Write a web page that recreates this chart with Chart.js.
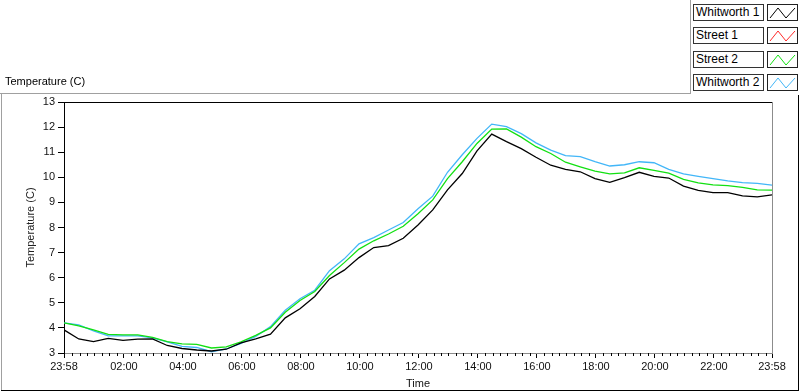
<!DOCTYPE html>
<html>
<head>
<meta charset="utf-8">
<script src="https://cdn.jsdelivr.net/npm/chart.js@4/dist/chart.umd.min.js"></script>
<style>
body { margin: 0; background: #fff; font-family: "Liberation Sans", Arial, sans-serif; }
#wrap { position: relative; width: 800px; height: 392px; overflow: hidden; background: #fff; }
#chart { position: absolute; left: 0; top: 0; }
.ln { position: absolute; }
#plotLabel { position: absolute; left: 5px; top: 75px; font-size: 11px; color: #000; }
.lgName { position: absolute; left: 693px; width: 67px; height: 15px; border: 1px solid #333; font-size: 12px; line-height: 15px; padding-left: 2px; color: #000; background: #fff; }
.lgIcon { position: absolute; left: 767px; width: 29px; height: 15px; border: 1px solid #222; background: #fff; }
</style>
</head>
<body>
<div id="wrap">
  <canvas id="chart" width="800" height="392"></canvas>
  <div class="ln" style="left:0;top:93px;width:691px;height:1px;background:#a0a0a0"></div>
  <div class="ln" style="left:690px;top:0;width:1px;height:94px;background:#a0a0a0"></div>
  <div class="ln" style="left:1px;top:93px;width:1px;height:298px;background:#a0a0a0"></div>
  <div class="ln" style="left:1px;top:390px;width:798px;height:1px;background:#000"></div>
  <div class="ln" style="left:798px;top:95px;width:1px;height:296px;background:#000"></div>
  <div id="plotLabel">Temperature (C)</div>
  <div id="legend"></div>
</div>
<script>
// time axis: hours since 23:58
const hours = [0, 0.5, 1, 1.5, 2, 2.5, 3, 3.5, 4, 4.5, 5, 5.5, 6, 6.5, 7, 7.5, 8, 8.5, 9, 9.5,
  10, 10.5, 11, 11.5, 12, 12.5, 13, 13.5, 14, 14.5, 15, 15.5, 16, 16.5, 17, 17.5, 18, 18.5, 19, 19.5,
  20, 20.5, 21, 21.5, 22, 22.5, 23, 23.5, 24]

const whitworth1 = [3.92, 3.56, 3.45, 3.58, 3.5, 3.55, 3.56, 3.3, 3.18, 3.12, 3.08, 3.15, 3.4, 3.56, 3.75, 4.4, 4.76, 5.25, 5.95, 6.3,
  6.8, 7.2, 7.28, 7.57, 8.1, 8.7, 9.5, 10.15, 11.05, 11.72, 11.42, 11.14, 10.8, 10.48, 10.32, 10.22, 9.95, 9.8, 9.99, 10.2,
  10.04, 9.97, 9.65, 9.48, 9.39, 9.39, 9.26, 9.22, 9.3]
const street1 = []
const street2 = [4.2, 4.08, 3.92, 3.74, 3.72, 3.72, 3.62, 3.45, 3.36, 3.34, 3.2, 3.24, 3.44, 3.7, 4.0, 4.62, 5.09, 5.45, 6.09, 6.6,
  7.14, 7.47, 7.74, 8.05, 8.55, 9.1, 9.95, 10.62, 11.35, 11.92, 11.93, 11.6, 11.22, 10.95, 10.6, 10.42, 10.25, 10.14, 10.18, 10.38,
  10.28, 10.17, 9.92, 9.78, 9.7, 9.67, 9.6, 9.5, 9.49]
const whitworth2 = [4.2, 4.12, 3.88, 3.68, 3.68, 3.68, 3.6, 3.44, 3.26, 3.22, 3.05, 3.16, 3.38, 3.66, 4.05, 4.7, 5.16, 5.5, 6.28, 6.75,
  7.35, 7.6, 7.9, 8.2, 8.75, 9.25, 10.2, 10.9, 11.55, 12.12, 12.02, 11.74, 11.37, 11.08, 10.86, 10.82, 10.62, 10.45, 10.5, 10.62,
  10.58, 10.32, 10.14, 10.04, 9.95, 9.86, 9.79, 9.76, 9.69]

const seriesNames = ['Whitworth 1', 'Street 1', 'Street 2', 'Whitworth 2']
const seriesColors = ['#000000', '#ff2a2a', '#12e012', '#42b6f8']
const seriesValues = [whitworth1, street1, street2, whitworth2]

const xTicks = [0, 2.033, 4.033, 6.033, 8.033, 10.033, 12.033, 14.033, 16.033, 18.033, 20.033, 22.033, 24]
const xTickLabels = ['23:58', '02:00', '04:00', '06:00', '08:00', '10:00', '12:00', '14:00', '16:00', '18:00', '20:00', '22:00', '23:58']

const tickFont = { family: '"Liberation Sans", Arial, sans-serif', size: 11 }

// legend boxes
let lg = document.getElementById('legend')
seriesNames.forEach((name, i) => {
    let top = 4 + Math.round(i * 23.3)
    lg.innerHTML += '<div class="lgName" style="top:' + top + 'px">' + name + '</div>' +
        '<div class="lgIcon" style="top:' + top + 'px"><svg width="29" height="15">' +
        '<polyline points="2,13 10,3 18,13 27,3" fill="none" stroke="' + seriesColors[i] + '" stroke-width="1"/></svg></div>'
})

// frame on top/right of plot and minor ticks on the time axis
const plotFrame = {
    id: 'plotFrame',
    afterDraw(chart) {
        let c = chart.ctx, a = chart.chartArea, xs = chart.scales.x
        c.save()
        c.lineWidth = 1
        c.strokeStyle = '#000'
        c.beginPath()
        c.moveTo(a.left, a.top + 0.5)
        c.lineTo(a.right, a.top + 0.5)
        c.stroke()
        c.strokeStyle = '#8c8c8c'
        c.beginPath()
        c.moveTo(Math.round(a.right) + 0.5, a.top)
        c.lineTo(Math.round(a.right) + 0.5, a.bottom)
        c.stroke()
        c.strokeStyle = '#000'
        c.beginPath()
        for (let m = 2; m < 1440; m += 15) {
            if ((m - 2) % 120 == 0) continue
            let px = Math.round(xs.getPixelForValue(m / 60)) + 0.5
            c.moveTo(px, a.bottom)
            c.lineTo(px, a.bottom + 3)
        }
        c.stroke()
        c.restore()
    }
}

let ctx = document.getElementById('chart').getContext('2d')
new Chart(ctx, {
    type: 'line',
    data: {
        datasets: seriesNames.map((name, i) => ({
            label: name,
            data: seriesValues[i].map((v, j) => ({ x: hours[j], y: v })),
            borderColor: seriesColors[i],
            backgroundColor: seriesColors[i],
            borderWidth: 1.3,
            pointRadius: 0,
            tension: 0,
            fill: false
        }))
    },
    options: {
        responsive: false,
        animation: false,
        layout: { padding: { top: 102, right: 28, left: 0, bottom: 0 } },
        plugins: { legend: { display: false }, tooltip: { enabled: false } },
        scales: {
            x: {
                type: 'linear',
                min: 0,
                max: 24,
                afterBuildTicks: s => { s.ticks = xTicks.map(v => ({ value: v })) },
                afterFit: s => { s.height = 39 },
                ticks: {
                    autoSkip: false,
                    maxRotation: 0,
                    padding: 2,
                    color: '#111',
                    font: tickFont,
                    callback: (v, i) => xTickLabels[i]
                },
                grid: { drawOnChartArea: false, tickLength: 5, tickColor: '#000' },
                border: { color: '#8c8c8c' },
                title: { display: true, text: 'Time', color: '#111', font: tickFont, padding: { top: 0, bottom: 1 } }
            },
            y: {
                min: 3,
                max: 13,
                afterFit: s => { s.width = 64 },
                ticks: { stepSize: 1, padding: 3, color: '#111', font: tickFont },
                grid: { drawOnChartArea: false, tickLength: 6, tickColor: '#000' },
                border: { color: '#000' },
                title: { display: true, text: 'Temperature (C)', color: '#222', font: tickFont, padding: { top: 24, bottom: 0 } }
            }
        }
    },
    plugins: [plotFrame]
})
</script>
</body>
</html>
